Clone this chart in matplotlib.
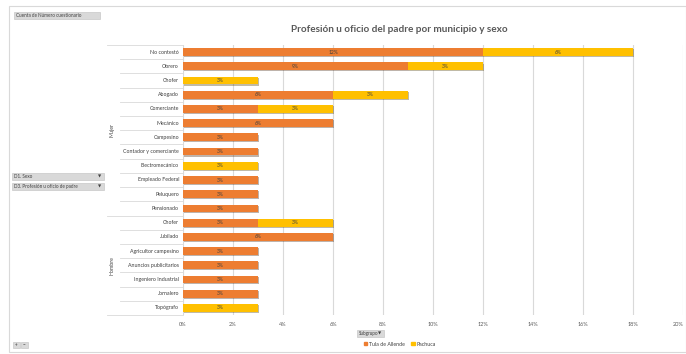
import matplotlib
matplotlib.use("Agg")
import matplotlib.pyplot as plt
from matplotlib.patches import Rectangle
import matplotlib.patheffects as pe
import numpy as np

plt.rcParams['font.family'] = ['Lato', 'DejaVu Sans']

# datos (porcentaje)
grupos = ["Mujer", "Hombre"]
ocup_mujer = ["No contestó", "Obrero", "Chofer", "Abogado", "Comerciante", "Mecánico",
              "Campesino", "Contador y comerciante", "Electromecánico",
              "Empleado Federal", "Peluquero", "Pensionado"]
ocup_hombre = ["Chofer", "Jubilado", "Agricultor campesino", "Anuncios publicitarios",
               "Ingeniero Industrial", "Jornalero", "Topógrafo"]
tula = [12, 9, 0, 6, 3, 6, 3, 3, 0, 3, 3, 3,
        3, 6, 3, 3, 3, 3, 0]
pachuca = [6, 3, 3, 3, 3, 0, 0, 0, 3, 0, 0, 0,
           3, 0, 0, 0, 0, 0, 3]
series = ["Tula de Allende", "Pachuca"]
colores = ["#ED7D31", "#FFC000"]
xticks = [0, 2, 4, 6, 8, 10, 12, 14, 16, 18, 20]

W, H = 686, 354
fig = plt.figure(figsize=(W / 100, H / 100), dpi=100)

def fx(px):
    return px / W

def fy(py):
    return 1 - py / H

ax = fig.add_axes([fx(183), fy(315), fx(683) - fx(183), fy(45) - fy(315)])

labels = ocup_mujer + ocup_hombre
n = len(labels)
y = np.arange(n)
tula = np.array(tula, dtype=float)
pachuca = np.array(pachuca, dtype=float)

sombra = [pe.SimplePatchShadow(offset=(0.6, -0.8), alpha=0.35), pe.Normal()]
b1 = ax.barh(y, tula, height=0.55, color=colores[0], zorder=3)
b2 = ax.barh(y, pachuca, left=tula, height=0.55, color=colores[1], zorder=3)
for bars in (b1, b2):
    for r in bars:
        if r.get_width() > 0:
            r.set_path_effects(sombra)

for i in range(n):
    if tula[i] > 0:
        ax.text(tula[i] / 2, y[i], f"{tula[i]:.0f}%", ha="center", va="center",
                fontsize=3.6, color="#404040", zorder=4)
    if pachuca[i] > 0:
        ax.text(tula[i] + pachuca[i] / 2, y[i], f"{pachuca[i]:.0f}%", ha="center",
                va="center", fontsize=3.6, color="#404040", zorder=4)

ax.set_ylim(n - 0.5, -0.5)
ax.set_xlim(0, 20)
ax.set_xticks(xticks)
ax.set_xticklabels([f"{t}%" for t in xticks], fontsize=4, color="#595959")
ax.get_xticklabels()[-1].set_ha("right")
ax.set_yticks([])
ax.tick_params(axis="x", length=0, pad=5)
ax.grid(axis="x", color="#D9D9D9", linewidth=0.8, zorder=0)
for s in ax.spines.values():
    s.set_visible(False)

# tabla de categorias a la izquierda
row_h = (315 - 45) / n
for i, lab in enumerate(labels):
    yc = 45 + row_h * (i + 0.5)
    fig.text(fx(179), fy(yc), lab, ha="right", va="center", fontsize=3.8, color="#404040")
for i in range(n + 1):
    yl = 45 + row_h * i
    x0 = 107 if i in (0, len(ocup_mujer), n) else 120
    fig.add_artist(plt.Line2D([fx(x0), fx(183)], [fy(yl), fy(yl)],
                              color="#D9D9D9", linewidth=0.6))
fig.text(fx(112), fy(45 + row_h * len(ocup_mujer) / 2), grupos[0], rotation=90,
         ha="center", va="center", fontsize=3.8, color="#404040")
fig.text(fx(112), fy(45 + row_h * (len(ocup_mujer) + len(ocup_hombre) / 2)), grupos[1],
         rotation=90, ha="center", va="center", fontsize=3.8, color="#404040")

# titulo
fig.text(fx(399), fy(30), "Profesión u oficio del padre por municipio y sexo",
         ha="center", va="center", fontsize=7.2, fontweight="bold", color="#595959")

# marco y botones
fig.add_artist(Rectangle((fx(9), fy(352)), fx(686) - fx(9), fy(6) - fy(352),
                         fill=False, edgecolor="#D9D9D9", linewidth=0.8))

def boton(x0, y0, w, h, txt, flecha=True):
    fig.add_artist(Rectangle((fx(x0), fy(y0 + h)), fx(w), h / H,
                             facecolor="#D9D9D9", edgecolor="#BFBFBF", linewidth=0.4))
    fig.text(fx(x0 + 2), fy(y0 + h / 2), txt, ha="left", va="center",
             fontsize=3.3, color="#404040")
    if flecha:
        fig.text(fx(x0 + w - 4), fy(y0 + h / 2), "▼", ha="center", va="center",
                 fontsize=3, color="#404040", family="DejaVu Sans")

boton(14, 12, 86, 7, "Cuenta de Número cuestionario", flecha=False)
boton(12, 173, 92, 7, "D1. Sexo")
boton(12, 183, 92, 7, "D3. Profesión u oficio de padre")
boton(357, 330, 27, 7, "Subgrupo")
boton(13, 342, 7, 6, "+", flecha=False)
boton(21, 342, 7, 6, "−", flecha=False)

# leyenda
fig.legend([Rectangle((0, 0), 1, 1, color=c) for c in colores], series,
           loc="center", bbox_to_anchor=(fx(400), fy(344)), ncol=2, frameon=False,
           fontsize=3.8, handlelength=0.6, handleheight=0.6, handletextpad=0.4,
           columnspacing=1.2, labelcolor="#404040")

fig.savefig("out.png", dpi=100, facecolor="white")
